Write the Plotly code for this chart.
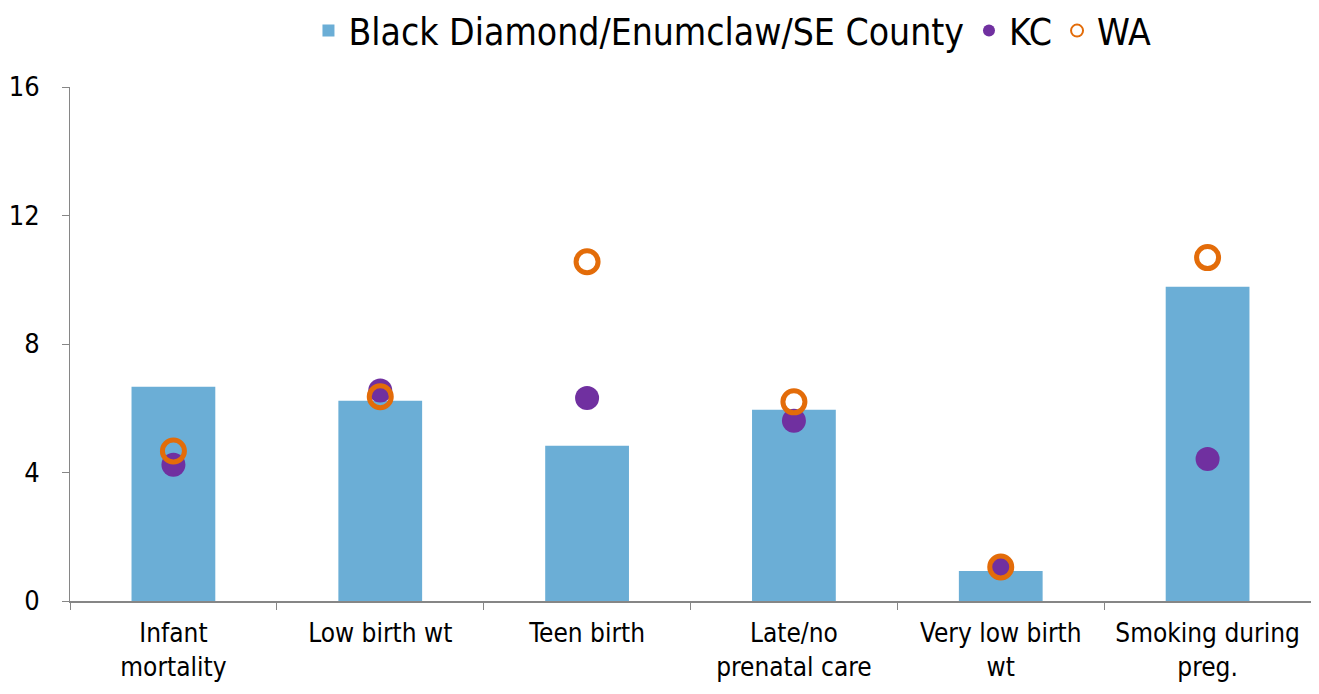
import plotly.graph_objects as go

categories = ["Infant<br>mortality", "Low birth wt", "Teen birth",
              "Late/no<br>prenatal care", "Very low birth<br>wt", "Smoking during<br>preg."]
region_vals = [6.67, 6.23, 4.83, 5.95, 0.93, 9.78]
kc_vals = [4.24, 6.55, 6.32, 5.61, 1.03, 4.42]
wa_vals = [4.67, 6.36, 10.56, 6.20, 1.06, 10.69]
y_ticks = [0, 4, 8, 12, 16]

FONT = "DejaVu Sans Condensed"

fig = go.Figure()
fig.add_trace(go.Bar(x=categories, y=region_vals, name="Black Diamond/Enumclaw/SE County",
                     marker=dict(color="#6BAED6", line=dict(width=0))))
fig.add_trace(go.Scatter(x=categories, y=kc_vals, name="KC", mode="markers",
                         marker=dict(color="#7030A0", size=24, symbol="circle")))
fig.add_trace(go.Scatter(x=categories, y=wa_vals, name="WA", mode="markers",
                         marker=dict(color="rgba(0,0,0,0)", size=22, symbol="circle",
                                     line=dict(color="#E36C09", width=5))))

fig.update_layout(
    width=1303, height=678,
    margin=dict(l=62, r=0, t=79, b=85, autoexpand=False),
    paper_bgcolor="white", plot_bgcolor="white",
    font=dict(family=FONT, color="black", size=26),
    bargap=0.595,
    showlegend=True,
    legend=dict(orientation="h", x=0.556, xanchor="center", xref="container",
                y=0.966, yanchor="middle", yref="container",
                font=dict(size=37, family=FONT), itemwidth=30, traceorder="normal",
                tracegroupgap=0, itemsizing="constant"),
)
fig.update_xaxes(type="category", showline=True, linecolor="#868686", linewidth=2,
                 ticks="outside", tickson="boundaries", ticklen=7, tickcolor="#868686",
                 tickwidth=1, showgrid=False, tickangle=0, automargin=False,
                 ticklabelstandoff=8, tickfont=dict(size=26, family=FONT))
fig.update_yaxes(range=[0, 16], tickvals=y_ticks, showline=True, linecolor="#868686",
                 linewidth=1, ticks="outside", ticklen=7, tickcolor="#868686",
                 showgrid=False, zeroline=False, automargin=False,
                 ticklabelstandoff=17, tickfont=dict(size=27, family=FONT))

fig.write_html("out.html")
